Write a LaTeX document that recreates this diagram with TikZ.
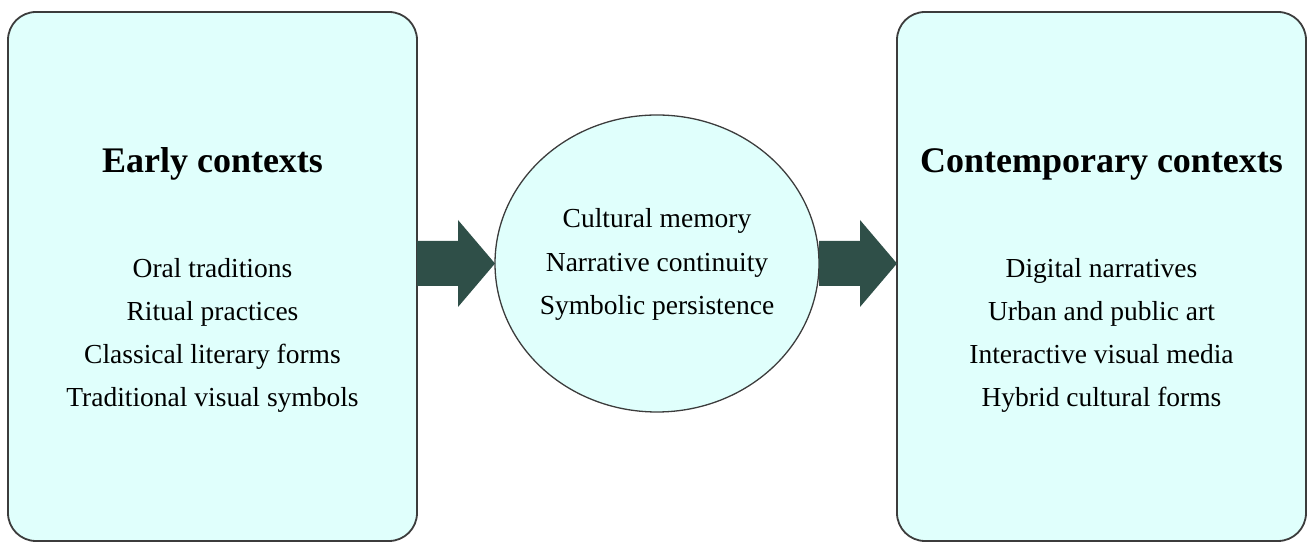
\documentclass[tikz,border=0pt]{standalone}
\usepackage{fontspec}
\setmainfont{Liberation Serif}
\usetikzlibrary{calc,shapes.geometric}
\definecolor{boxfill}{HTML}{E0FFFC}
\definecolor{boxline}{HTML}{3C3C3C}
\definecolor{arrowgreen}{HTML}{2F4F48}
\tikzset{
  ctxbox/.style={draw=boxline, line width=1.8pt, fill=boxfill, rounded corners=28pt,
    minimum width=409pt, minimum height=529pt, inner sep=0pt, outer sep=0pt},
  hubellipse/.style={ellipse, draw=boxline, line width=1.3pt, fill=boxfill,
    minimum width=324pt, minimum height=297pt, inner sep=0pt, outer sep=0pt},
  ctxtitle/.style={anchor=base, inner sep=0pt, font=\fontsize{36}{42}\selectfont\bfseries},
  ctxitem/.style={anchor=base, inner sep=0pt, font=\fontsize{27.5}{32}\selectfont},
  flowarrow/.style={fill=arrowgreen}
}
\begin{document}
\begin{tikzpicture}[x=1pt, y=1pt]
	\useasboundingbox (0,0) rectangle (1307,543);
	% Ba khối chính
	\node[ctxbox] (early) at (212.5,266.5) {};
	\node[ctxbox] (late) at (1101.5,266.5) {};
	\node[hubellipse] (mid) at (657,279.5) {};
	% Mũi tên khối
	\foreach \a/\b in {early/mid, mid/late}{
		\coordinate (tail) at (\a.east |- mid.center);
		\coordinate (tip) at (\b.west |- mid.center);
		\fill[flowarrow] ($(tail)+(0,22.5)$) -- ($(tip)+(-37,22.5)$)
			-- ($(tip)+(-37,43.5)$) -- (tip) -- ($(tip)+(-37,-43.5)$)
			-- ($(tip)+(-37,-22.5)$) -- ($(tail)+(0,-22.5)$) -- cycle;
	}
	% Tiêu đề
	\node[ctxtitle] (earlytitle) at (early.center |- 0,370) {Early contexts};
	\node[ctxtitle] (latetitle) at (late.center |- 0,370) {Contemporary contexts};
	% Các dòng nội dung
	\foreach \t [count=\i] in {Oral traditions, Ritual practices, Classical literary forms, Traditional visual symbols}
		\node[ctxitem] (early\i) at (212.5,308-43*\i) {\t};
	\foreach \t [count=\i] in {Cultural memory, Narrative continuity, Symbolic persistence}
		\node[ctxitem] (mid\i) at (657,358.5-43.5*\i) {\t};
	\foreach \t [count=\i] in {Digital narratives, Urban and public art, Interactive visual media, Hybrid cultural forms}
		\node[ctxitem] (late\i) at (1101.5,308-43*\i) {\t};
\end{tikzpicture}
\end{document}
